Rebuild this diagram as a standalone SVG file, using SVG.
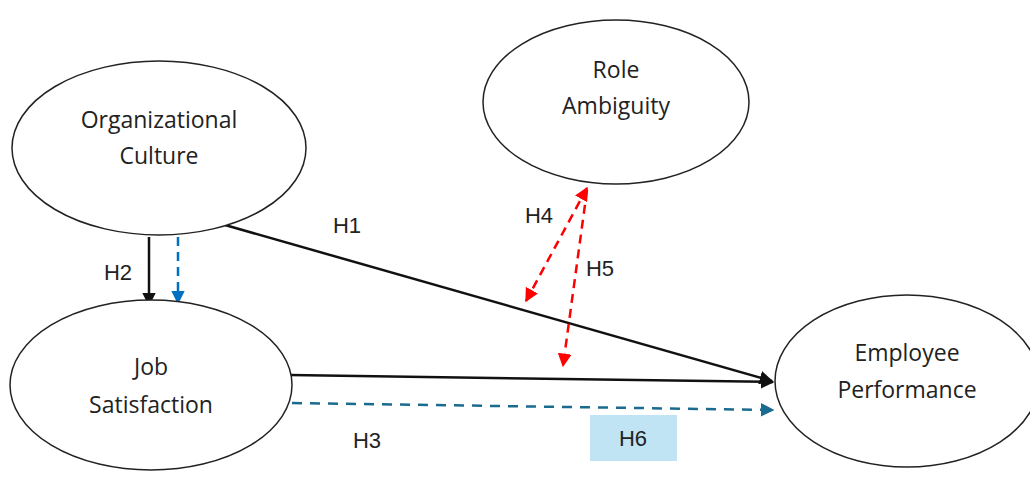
<svg xmlns="http://www.w3.org/2000/svg" width="1030" height="479" viewBox="0 0 1030 479">
<style>
.node{fill:#fff;stroke:#222;stroke-width:1.5}
.t{font-family:"Open Sans","Liberation Sans",sans-serif;font-size:23px;fill:#222;text-anchor:middle}
.lbl{font-family:"Liberation Sans",sans-serif;font-size:22px;fill:#222;text-anchor:middle}
.solid{stroke:#111;stroke-width:2.5;fill:none}
.blue{stroke:#0070c0;stroke-width:2.5;fill:none;stroke-dasharray:9,6}
.teal{stroke:#1b6a90;stroke-width:2.5;fill:none;stroke-dasharray:10,8}
.red{stroke:#f00;stroke-width:2.5;fill:none;stroke-dasharray:9,6}
</style>
<defs>
<marker id="ab" viewBox="0 0 10 10" refX="9" refY="5" markerWidth="5.5" markerHeight="5.5" orient="auto-start-reverse"><path d="M0,0L10,5L0,10z" fill="#111"/></marker>
<marker id="abl" viewBox="0 0 10 10" refX="9" refY="5" markerWidth="5.5" markerHeight="5.5" orient="auto-start-reverse"><path d="M0,0L10,5L0,10z" fill="#0070c0"/></marker>
<marker id="at" viewBox="0 0 10 10" refX="9" refY="5" markerWidth="5.5" markerHeight="5.5" orient="auto-start-reverse"><path d="M0,0L10,5L0,10z" fill="#1b6a90"/></marker>
<marker id="ar" viewBox="0 0 10 10" refX="9" refY="5" markerWidth="5.5" markerHeight="5.5" orient="auto-start-reverse"><path d="M0,0L10,5L0,10z" fill="#f00"/></marker>
</defs>
<rect width="1030" height="479" fill="#fff"/>
<g id="connectors">
<path class="solid" d="M225,225L772,381" marker-end="url(#ab)"/>
<path class="solid" d="M290,375L773,382" marker-end="url(#ab)"/>
<path class="teal" d="M292,403L773,410" marker-end="url(#at)"/>
<path class="solid" d="M149,237L149,305" marker-end="url(#ab)"/>
<path class="blue" d="M178,237L178,303" marker-end="url(#abl)"/>
<path class="red" d="M587,188L526,301" marker-start="url(#ar)" marker-end="url(#ar)"/>
<path class="red" d="M587,190L563,366" marker-end="url(#ar)"/>
</g>
<g id="organizational-culture"><ellipse class="node" cx="159" cy="148" rx="147" ry="87"/><text class="t" x="159" y="128">Organizational</text><text class="t" x="159" y="164">Culture</text></g>
<g id="role-ambiguity"><ellipse class="node" cx="616" cy="102" rx="133" ry="82"/><text class="t" x="616" y="78">Role</text><text class="t" x="616" y="114">Ambiguity</text></g>
<g id="job-satisfaction"><ellipse class="node" cx="151" cy="385" rx="141" ry="85"/><text class="t" x="151" y="375">Job</text><text class="t" x="151" y="413">Satisfaction</text></g>
<g id="employee-performance"><ellipse class="node" cx="907" cy="381" rx="132" ry="86"/><text class="t" x="907" y="361">Employee</text><text class="t" x="907" y="398">Performance</text></g>
<g id="labels">
<text class="lbl" x="347" y="233">H1</text>
<text class="lbl" x="118" y="280">H2</text>
<text class="lbl" x="367" y="448">H3</text>
<text class="lbl" x="539" y="223">H4</text>
<text class="lbl" x="600" y="276">H5</text>
<rect x="590" y="415" width="87" height="46" fill="#c0e4f4"/>
<text class="lbl" x="633" y="446">H6</text>
</g>
</svg>
